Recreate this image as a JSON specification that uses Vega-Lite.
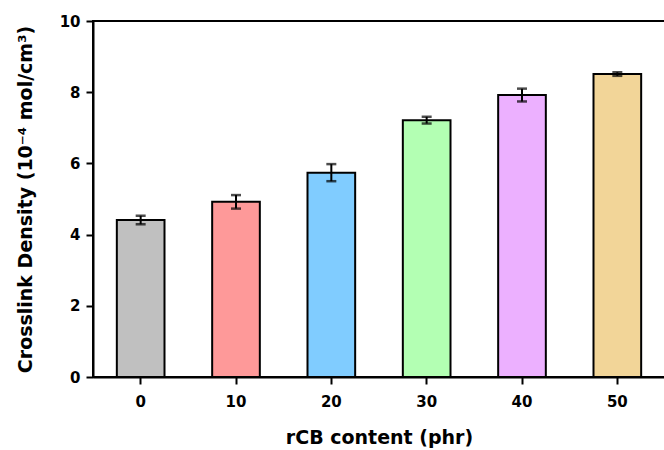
{
  "$schema": "https://vega.github.io/schema/vega-lite/v6.json",
  "autosize": {"type": "none"},
  "padding": {"left": 93, "top": 21, "right": 0, "bottom": 73},
  "width": 572,
  "height": 356,
  "background": "white",
  "config": {
    "font": "DejaVu Sans",
    "view": {"stroke": "black", "strokeWidth": 2},
    "axis": {
      "domainColor": "black", "domainWidth": 2,
      "tickColor": "black", "tickWidth": 2, "tickSize": 7,
      "labelFont": "DejaVu Sans", "labelFontWeight": "bold", "labelFontSize": 15, "labelColor": "black",
      "titleFont": "DejaVu Sans", "titleFontWeight": "bold", "titleFontSize": 19, "titleColor": "black",
      "grid": false
    }
  },
  "data": {
    "values": [
      {"content": "0", "mean": 4.41, "lo": 4.29, "hi": 4.53, "color": "#c0c0c0"},
      {"content": "10", "mean": 4.92, "lo": 4.73, "hi": 5.11, "color": "#fe9999"},
      {"content": "20", "mean": 5.74, "lo": 5.50, "hi": 5.98, "color": "#80ccff"},
      {"content": "30", "mean": 7.21, "lo": 7.12, "hi": 7.31, "color": "#b3ffb3"},
      {"content": "40", "mean": 7.92, "lo": 7.74, "hi": 8.10, "color": "#ecb0ff"},
      {"content": "50", "mean": 8.51, "lo": 8.46, "hi": 8.56, "color": "#f2d598"}
    ]
  },
  "encoding": {
    "x": {
      "field": "content", "type": "ordinal", "sort": null,
      "scale": {"paddingInner": 0.5, "paddingOuter": 0.25},
      "axis": {"labelAngle": 0, "labelPadding": 10, "title": "rCB content (phr)", "titlePadding": 19}
    }
  },
  "layer": [
    {
      "mark": {"type": "bar", "stroke": "black", "strokeWidth": 2},
      "encoding": {
        "y": {
          "field": "mean", "type": "quantitative",
          "scale": {"domain": [0, 10]},
          "axis": {"values": [0, 2, 4, 6, 8, 10], "labelPadding": 6, "title": "Crosslink Density (10⁻⁴ mol/cm³)", "titlePadding": 24}
        },
        "fill": {"field": "color", "type": "nominal", "scale": null}
      }
    },
    {
      "mark": {"type": "rule", "color": "black", "strokeWidth": 2},
      "encoding": {
        "y": {"field": "lo", "type": "quantitative"},
        "y2": {"field": "hi"}
      }
    },
    {
      "mark": {"type": "tick", "color": "black", "thickness": 2.5, "size": 10, "orient": "horizontal"},
      "encoding": {"y": {"field": "lo", "type": "quantitative"}}
    },
    {
      "mark": {"type": "tick", "color": "black", "thickness": 2.5, "size": 10, "orient": "horizontal"},
      "encoding": {"y": {"field": "hi", "type": "quantitative"}}
    }
  ]
}
